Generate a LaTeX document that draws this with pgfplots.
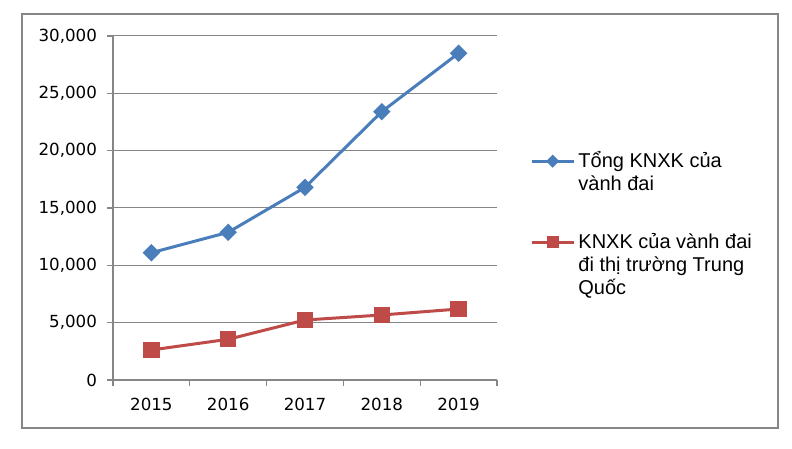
\documentclass[border=0pt]{standalone}
\usepackage{fontspec}
\setmainfont{Liberation Sans}
\newfontfamily\tickfont{DejaVu Sans}
\usepackage{pgfplots}
\pgfplotsset{compat=1.18}
\definecolor{bl}{HTML}{4A7EBB}
\definecolor{rd}{HTML}{BE4B48}
\definecolor{gr}{HTML}{868686}
\begin{document}
\begin{tikzpicture}
\path (0pt,0pt) rectangle (475.2pt,269.4pt);
\draw[gr, line width=1.2pt] (13.2pt,12.6pt) rectangle (466.8pt,261pt);
\begin{axis}[
  at={(67.8pt,41.4pt)}, anchor=south west,
  width=230.4pt, height=206.4pt, scale only axis,
  xmin=-0.5, xmax=4.5, ymin=0, ymax=30000,
  xtick={0,...,4}, xticklabels={2015,2016,2017,2018,2019},
  minor xtick={-0.5,0.5,...,4.5},
  major x tick style={draw=none},
  ytick={0,5000,...,30000},
  ymajorgrids, grid style={gr, line width=0.6pt},
  axis x line*=bottom, axis y line*=left,
  x axis line style={-}, y axis line style={-},
  axis line style={gr, line width=0.9pt},
  tick align=outside, tick style={gr, line width=0.8pt},
  major tick length=3.6pt, minor tick length=3.6pt,
  /pgf/number format/assume math mode=true,
  /pgf/number format/1000 sep={,},
  scaled y ticks=false,
  ticklabel style={font=\tickfont\fontsize{10}{12}\selectfont, text=black},
  yticklabel style={xshift=-2.5pt},
  xticklabel style={yshift=-4pt},
  legend style={draw=none, fill=none, at={(axis description cs:1.086,0.674)}, anchor=north west,
    font=\fontsize{12}{13.8}\selectfont, nodes={align=left}, row sep=20pt, inner sep=0pt},
  legend cell align=left,
  legend image code/.code={\draw[mark repeat=2,mark phase=2,#1] plot coordinates {(0cm,0cm)(0.44cm,0cm)(0.88cm,0cm)};},
]
\addplot[bl, line width=1.8pt, mark=square*, mark size=2.8pt, mark options={rotate=45, solid},
  legend image post style={yshift=6.9pt, mark size=1.9pt}]
  coordinates {(0,11100)(1,12880)(2,16800)(3,23400)(4,28500)};
\addlegendentry{Tổng KNXK của\\vành đai}
\addplot[rd, line width=1.8pt, mark=square*, mark size=4pt, mark options={solid},
  legend image post style={yshift=13.8pt, mark size=2.8pt}]
  coordinates {(0,2620)(1,3550)(2,5230)(3,5670)(4,6190)};
\addlegendentry{KNXK của vành đai\\đi thị trường Trung\\Quốc}
\end{axis}
\end{tikzpicture}
\end{document}
